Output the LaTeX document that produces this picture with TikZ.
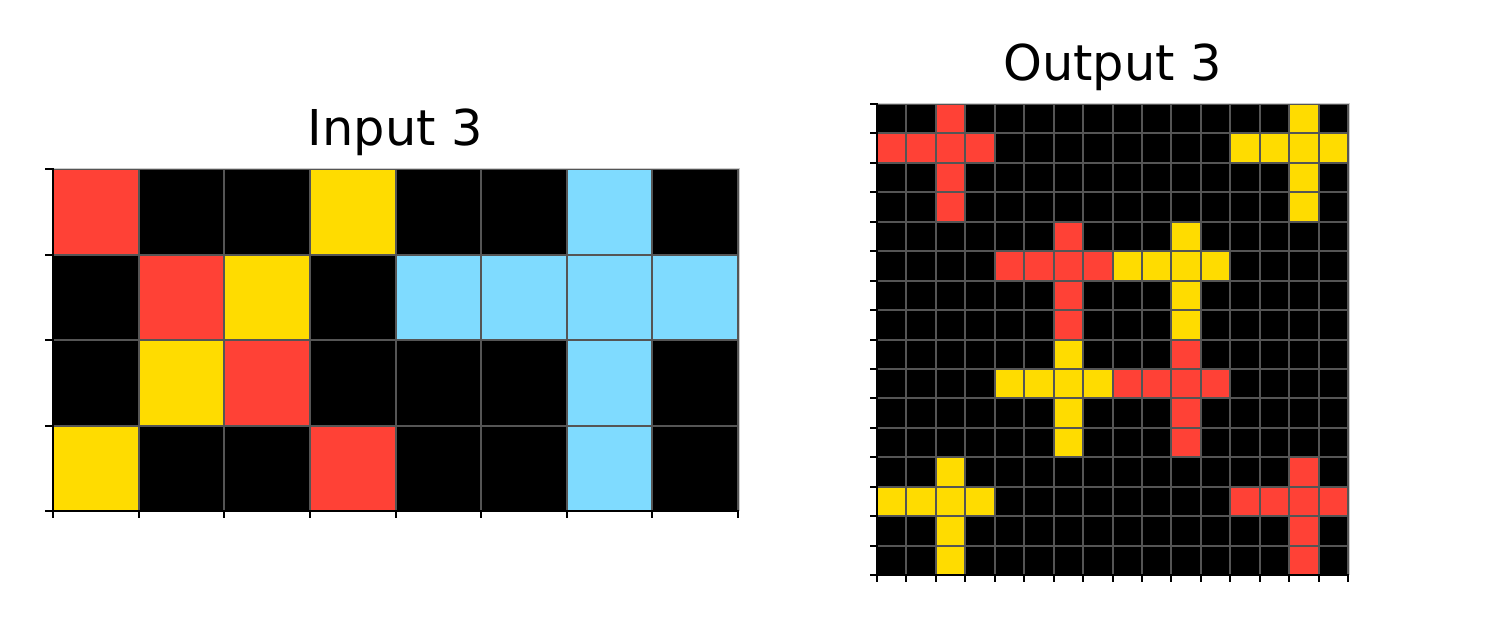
\documentclass[tikz,border=0pt]{standalone}
\usepackage{fontspec}
\setmainfont{DejaVu Sans}
\definecolor{arcred}{HTML}{FF4136}
\definecolor{arcyellow}{HTML}{FFDC00}
\definecolor{arcblue}{HTML}{7FDBFF}
\definecolor{gridgray}{HTML}{555555}
\definecolor{edgegray}{HTML}{CCCCCC}
\tikzset{
  gridline/.style={draw=gridgray,line width=2pt},
  tickline/.style={draw=black,line width=2pt},
  spine/.style={draw=black,line width=2pt,line cap=rect},
  lightspine/.style={draw=edgegray,line width=1pt},
  title/.style={anchor=base,inner sep=0pt,font=\fontsize{49.4pt}{59pt}\selectfont}
}
\begin{document}
\begin{tikzpicture}[x=1pt,y=-1pt]
\useasboundingbox (0,0) rectangle (1500,629);
\fill[white] (0,0) rectangle (1500,629);
% ---------- Input grid ----------
\def\is{85.625}\def\ir{85.5}
\fill[black] (53,169) rectangle (738,511);
\foreach \c/\r/\col in {0/0/arcred,1/1/arcred,2/2/arcred,3/3/arcred,
  3/0/arcyellow,2/1/arcyellow,1/2/arcyellow,0/3/arcyellow,
  6/0/arcblue,4/1/arcblue,5/1/arcblue,6/1/arcblue,7/1/arcblue,6/2/arcblue,6/3/arcblue}
  \fill[\col] ({53+\c*\is},{169+\r*\ir}) rectangle ++(\is,\ir);
\foreach \i in {0,...,8} \draw[gridline] ({53+\i*\is},169) -- ++(0,342);
\foreach \j in {0,...,4} \draw[gridline] (53,{169+\j*\ir}) -- ++(685,0);
\draw[lightspine] (53,168) -- (739,168) -- (739,511);
\foreach \j in {0,...,4} \draw[tickline] (53,{169+\j*\ir}) -- ++(-8,0);
\foreach \i in {0,...,8} \draw[tickline] ({53+\i*\is},511) -- ++(0,7);
\draw[spine] (53,169) -- (53,511) -- (738,511);
\node[title] (tin) at (395.5,145) {Input 3};
% ---------- Output grid ----------
\def\ts{29.4375}
\fill[black] (877,104) rectangle (1348,575);
\foreach \a/\b/\col in {0/0/arcred,4/4/arcred,8/8/arcred,12/12/arcred,
  12/0/arcyellow,8/4/arcyellow,4/8/arcyellow,0/12/arcyellow}{
  \fill[\col] ({877+(\a+2)*\ts},{104+\b*\ts}) rectangle ++(\ts,{4*\ts});
  \fill[\col] ({877+\a*\ts},{104+(\b+1)*\ts}) rectangle ++({4*\ts},\ts);
}
\foreach \i in {0,...,16} \draw[gridline] ({877+\i*\ts},104) -- ++(0,471);
\foreach \j in {0,...,16} \draw[gridline] (877,{104+\j*\ts}) -- ++(471,0);
\draw[lightspine] (877,103) -- (1349,103) -- (1349,575);
\foreach \j in {0,...,16} \draw[tickline] (877,{104+\j*\ts}) -- ++(-7,0);
\foreach \i in {0,...,16} \draw[tickline] ({877+\i*\ts},575) -- ++(0,7);
\draw[spine] (877,104) -- (877,575) -- (1348,575);
\node[title] (tout) at (1112.5,80) {Output 3};
\end{tikzpicture}
\end{document}
